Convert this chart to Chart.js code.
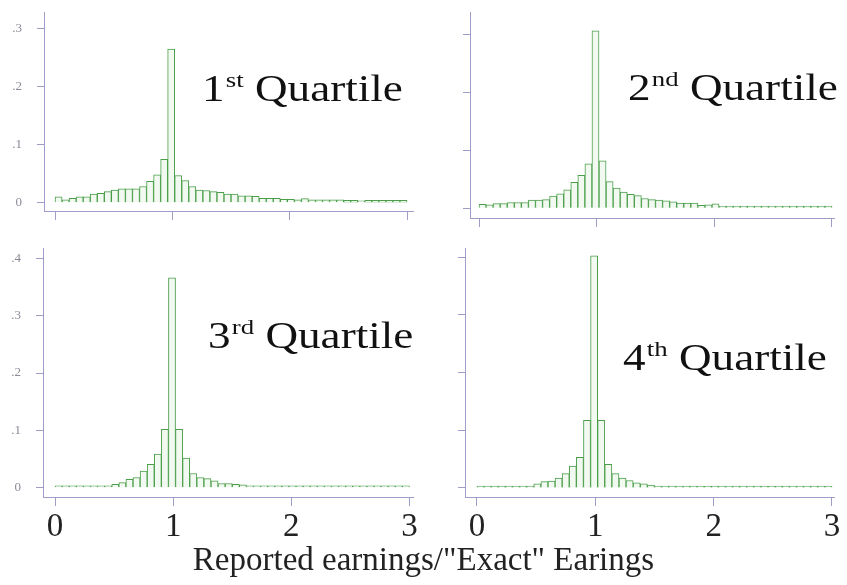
<!DOCTYPE html>
<html>
<head>
<meta charset="utf-8">
<script src="https://cdn.jsdelivr.net/npm/chart.js@4/dist/chart.umd.min.js"></script>
<style>
  html, body { margin: 0; padding: 0; background: #ffffff; }
  #page { position: relative; width: 847px; height: 585px; overflow: hidden; background: #ffffff; }
  canvas.panel { position: absolute; }
  .qlabel {
    position: absolute;
    font-family: "Liberation Serif", "Times New Roman", serif;
    font-size: 37px;
    line-height: 37px;
    color: #111111;
    white-space: nowrap;
    transform-origin: left top;
    transform: scaleX(1.22);
  }
  .qlabel .sup { font-size: 22px; position: relative; top: -14px; margin-left: 1px; }
  #xtitle {
    position: absolute; left: 0; width: 847px; text-align: center;
    top: 543px;
    font-family: "Liberation Serif", "Times New Roman", serif;
    font-size: 33px; line-height: 33px; color: #222222;
  }
</style>
</head>
<body>
<div id="page">
  <canvas class="panel" id="c1" width="423" height="230" style="left:0px;top:0px;width:423px;height:230px;"></canvas>
  <canvas class="panel" id="c2" width="424" height="230" style="left:423px;top:0px;width:424px;height:230px;"></canvas>
  <canvas class="panel" id="c3" width="423" height="315" style="left:0px;top:230px;width:423px;height:315px;"></canvas>
  <canvas class="panel" id="c4" width="424" height="315" style="left:423px;top:230px;width:424px;height:315px;"></canvas>

  <div class="qlabel" style="left:202px;top:70px;">1<span class="sup">st</span> Quartile</div>
  <div class="qlabel" style="left:628px;top:69px;">2<span class="sup">nd</span> Quartile</div>
  <div class="qlabel" style="left:208px;top:317px;">3<span class="sup">rd</span> Quartile</div>
  <div class="qlabel" style="left:623px;top:339px;">4<span class="sup">th</span> Quartile</div>

  <div id="xtitle">Reported earnings/"Exact" Earings</div>
</div>

<script>
// Histogram bins: width 0.06 on [0, 3]; bar positions are the bin centres.
const binCenters = [
  0.03, 0.09, 0.15, 0.21, 0.27, 0.33, 0.39, 0.45, 0.51, 0.57,
  0.63, 0.69, 0.75, 0.81, 0.87, 0.93, 0.99, 1.05, 1.11, 1.17,
  1.23, 1.29, 1.35, 1.41, 1.47, 1.53, 1.59, 1.65, 1.71, 1.77,
  1.83, 1.89, 1.95, 2.01, 2.07, 2.13, 2.19, 2.25, 2.31, 2.37,
  2.43, 2.49, 2.55, 2.61, 2.67, 2.73, 2.79, 2.85, 2.91, 2.97
];

// Fraction of observations per bin, one array per size quartile.
const quartile1 = [
  0.010, 0.005, 0.0075, 0.010, 0.010, 0.015, 0.016, 0.019, 0.022, 0.024,
  0.024, 0.024, 0.028, 0.037, 0.048, 0.075, 0.265, 0.047, 0.038, 0.028,
  0.022, 0.021, 0.019, 0.018, 0.015, 0.015, 0.012, 0.012, 0.011, 0.0075,
  0.0075, 0.0075, 0.006, 0.006, 0.005, 0.007, 0.005, 0.005, 0.005, 0.005,
  0.005, 0.004, 0.004, 0.003, 0.004, 0.004, 0.004, 0.004, 0.004, 0.004
];
const quartile2 = [
  0.007, 0.006, 0.008, 0.008, 0.010, 0.010, 0.010, 0.014, 0.014, 0.015,
  0.021, 0.025, 0.032, 0.045, 0.057, 0.077, 0.307, 0.082, 0.046, 0.035,
  0.028, 0.024, 0.022, 0.017, 0.015, 0.014, 0.013, 0.011, 0.009, 0.009,
  0.009, 0.005, 0.006, 0.0075, 0.004, 0.004, 0.004, 0.004, 0.004, 0.004,
  0.004, 0.004, 0.004, 0.004, 0.004, 0.004, 0.004, 0.004, 0.004, 0.004
];
const quartile3 = [
  0.003, 0.001, 0.002, 0.0035, 0.003, 0.003, 0.003, 0.003, 0.006, 0.009,
  0.015, 0.018, 0.029, 0.041, 0.059, 0.102, 0.366, 0.102, 0.052, 0.025,
  0.018, 0.016, 0.012, 0.0075, 0.0075, 0.006, 0.005, 0.0035, 0.002, 0.002,
  0.002, 0.002, 0.002, 0.0015, 0.0015, 0.001, 0.001, 0.001, 0.001, 0.001,
  0.001, 0.0005, 0.0005, 0.0005, 0.0005, 0.0005, 0.0005, 0.0005, 0.0005, 0.0005
];
const quartile4 = [
  0.002, 0.001, 0.001, 0.002, 0.003, 0.003, 0.003, 0.003, 0.007, 0.011,
  0.012, 0.017, 0.025, 0.038, 0.053, 0.117, 0.402, 0.117, 0.041, 0.025,
  0.017, 0.013, 0.009, 0.007, 0.005, 0.0035, 0.002, 0.002, 0.002, 0.002,
  0.002, 0.002, 0.001, 0.001, 0.001, 0.001, 0.0005, 0.0005, 0.0005, 0.0005,
  0.0005, 0.0005, 0.0005, 0.0005, 0.0005, 0.0005, 0.0005, 0.0005, 0.0005, 0.0005
];

// Tick positions
const xTicks = [0, 1, 2, 3];
const yTicksTop = [0, 0.1, 0.2, 0.3];
const yTicksBottom = [0, 0.1, 0.2, 0.3, 0.4];

const axisColor = '#9d9dc8';
const barEdge = '#4a9e4a';
const barFill = '#f2f9f0';
const serif = '"Liberation Serif", "Times New Roman", serif';

function yLabel(v) {
  if (Math.abs(v) < 1e-9) return '0';
  return '.' + Math.round(v * 10);
}

function buildPanel(id, values, p) {
  const points = binCenters.map((x, i) => ({ x: x, y: values[i] }));
  return new Chart(document.getElementById(id), {
    type: 'bar',
    data: {
      datasets: [{
        data: points,
        backgroundColor: barFill,
        borderColor: barEdge,
        borderWidth: 1,
        barPercentage: 1,
        categoryPercentage: 1,
        borderSkipped: 'start',
        minBarLength: 2
      }]
    },
    options: {
      responsive: false,
      animation: false,
      events: [],
      layout: { padding: { top: p.padTop, right: p.padRight, left: 0, bottom: 0 } },
      plugins: { legend: { display: false }, tooltip: { enabled: false } },
      scales: {
        x: {
          type: 'linear',
          offset: false,
          min: p.xMin,
          max: p.xMax,
          afterBuildTicks: s => { s.ticks = xTicks.map(v => ({ value: v })); },
          afterFit: s => {
            s.height = p.xAxisHeight;
            s.paddingLeft = 0; s.paddingRight = 0;
          },
          grid: { offset: false, drawOnChartArea: false, drawTicks: true, tickLength: 9, color: axisColor, lineWidth: 1 },
          border: { display: true, color: axisColor, width: 1 },
          ticks: {
            display: p.showX,
            autoSkip: false,
            maxRotation: 0,
            padding: 2,
            color: '#222222',
            font: { family: serif, size: 33 },
            callback: v => String(v)
          }
        },
        y: {
          min: p.yMin,
          max: p.yMax,
          afterBuildTicks: s => { s.ticks = p.yTicks.map(v => ({ value: v })); },
          afterFit: s => {
            s.width = p.yAxisWidth;
            s.paddingTop = 0; s.paddingBottom = 0;
          },
          grid: { offset: false, drawOnChartArea: false, drawTicks: true, tickLength: 7, color: axisColor, lineWidth: 1 },
          border: { display: true, color: axisColor, width: 1 },
          ticks: {
            display: p.showY,
            autoSkip: false,
            padding: 15,
            color: '#8a8a98',
            font: { family: serif, size: 13 },
            callback: v => yLabel(v)
          }
        }
      }
    }
  });
}

buildPanel('c1', quartile1, {
  padTop: 12, padRight: 10, xAxisHeight: 19, yAxisWidth: 44,
  xMin: -0.094, xMax: 3.051, yMin: -0.0143, yMax: 0.329,
  yTicks: yTicksTop, showX: false, showY: true
});
buildPanel('c2', quartile2, {
  padTop: 12, padRight: 13, xAxisHeight: 12, yAxisWidth: 47,
  xMin: -0.0765, xMax: 3.017, yMin: -0.0168, yMax: 0.3396,
  yTicks: yTicksTop, showX: false, showY: false
});
buildPanel('c3', quartile3, {
  padTop: 18, padRight: 10, xAxisHeight: 48, yAxisWidth: 43,
  xMin: -0.102, xMax: 3.03, yMin: -0.016, yMax: 0.418,
  yTicks: yTicksBottom, showX: true, showY: true
});
buildPanel('c4', quartile4, {
  padTop: 18, padRight: 13, xAxisHeight: 48, yAxisWidth: 42,
  xMin: -0.101, xMax: 3.017, yMin: -0.0156, yMax: 0.4156,
  yTicks: yTicksBottom, showX: true, showY: false
});
</script>
</body>
</html>
